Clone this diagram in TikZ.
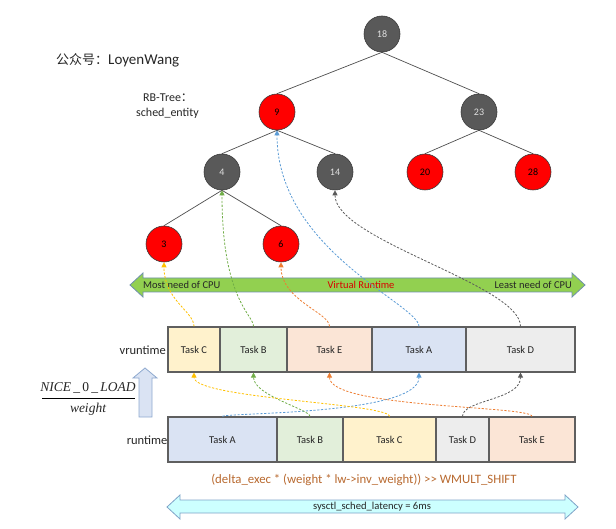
\documentclass[tikz,border=0pt]{standalone}
\usepackage{fontspec}
\setmainfont{Carlito}
\newfontfamily\cjkf{Noto Sans CJK SC}
\newfontfamily\timesf{Liberation Serif}
\usetikzlibrary{arrows.meta}
\definecolor{cYel}{HTML}{FFC000}
\definecolor{cGrn}{HTML}{70AD47}
\definecolor{cOrg}{HTML}{ED7D31}
\definecolor{cBlu}{HTML}{5B9BD5}
\definecolor{cGry}{HTML}{5A5A5A}
\definecolor{fC}{HTML}{FFF2CC}
\definecolor{fB}{HTML}{E2EFDA}
\definecolor{fE}{HTML}{FBE5D6}
\definecolor{fA}{HTML}{DAE3F3}
\definecolor{fD}{HTML}{EDEDED}
\definecolor{darkN}{HTML}{595959}
\definecolor{edgeN}{HTML}{3A3A3A}
\definecolor{boxLine}{HTML}{5F5F5F}
\definecolor{arrGreen}{HTML}{92D050}
\definecolor{arrGreenLine}{HTML}{6F8FAF}
\definecolor{arrCyan}{HTML}{CCFFFF}
\definecolor{arrCyanLine}{HTML}{7FA3C8}
\definecolor{arrBlue}{HTML}{DAE3F3}
\definecolor{arrBlueLine}{HTML}{8EA9CF}
\definecolor{formulaC}{HTML}{B8692F}
\definecolor{txt}{HTML}{262626}
\begin{document}
\begin{tikzpicture}[x=1pt,y=-1pt,
  rbnode/.style={circle,minimum size=36pt,inner sep=0pt,draw=edgeN,line width=0.6pt,font=\fontsize{10}{12}\selectfont},
  blk/.style={rbnode,fill=darkN,text=white!88!black},
  red/.style={rbnode,fill=red,text=black},
  tedge/.style={draw=edgeN!90,line width=0.7pt},
  taskbox/.style={rectangle,draw=boxLine,line width=1.1pt,minimum height=45pt,inner sep=0pt,text=txt,font=\fontsize{10.5}{12}\selectfont},
  conn/.style={line width=0.8pt,dash pattern=on 2.2pt off 1.6pt,-{Triangle[length=5pt,width=5pt]}},
  lbl/.style={inner sep=0pt,text=txt}
]
\useasboundingbox (0,0) rectangle (616,529);

% header texts
\node[lbl,anchor=west] (title) at (56,60) {{\cjkf\fontsize{13}{15}\selectfont 公众号：}{\fontsize{15}{17}\selectfont LoyenWang}};
\node[lbl,anchor=west] (rbt) at (143,98) {\fontsize{12}{14}\selectfont RB-Tree{\cjkf ：}};
\node[lbl,anchor=west] (sent) at (136,113) {\fontsize{12}{14}\selectfont sched\_entity};

% tree
\node[blk] (n18) at (382,34) {18};
\node[red] (n9) at (277,112) {9};
\node[blk] (n23) at (479,112) {23};
\node[blk] (n4) at (222,172) {4};
\node[blk] (n14) at (335,172) {14};
\node[red] (n20) at (425,172) {20};
\node[red] (n28) at (533,172) {28};
\node[red] (n3) at (164,244) {3};
\node[red] (n6) at (281,244) {6};
\path[tedge] (n18.south) -- (n9.north);
\path[tedge] (n18.south) -- (n23.north);
\path[tedge] (n9.south) -- (n4.north);
\path[tedge] (n9.south) -- (n14.north);
\path[tedge] (n23.south) -- (n20.north);
\path[tedge] (n23.south) -- (n28.north);
\path[tedge] (n4.south) -- (n3.north);
\path[tedge] (n4.south) -- (n6.north);

% green virtual runtime arrow
\draw[fill=arrGreen,draw=arrGreenLine,line width=0.8pt]
  (130,285) -- (143,273) -- (143,278) -- (572,278) -- (572,273) -- (585,285)
  -- (572,297) -- (572,292) -- (143,292) -- (143,297) -- cycle;
\node[lbl,anchor=west,font=\fontsize{10.5}{12}\selectfont] (most) at (143,285) {Most need of CPU};
\node[lbl,text=red!85!black,font=\fontsize{10.5}{12}\selectfont] (vrt) at (361,285) {Virtual Runtime};
\node[lbl,anchor=east,font=\fontsize{10.5}{12}\selectfont] (least) at (572,285) {Least need of CPU};

% vruntime row
\node[taskbox,fill=fC,minimum width=52pt] (vC) at (194,349.5) {Task C};
\node[taskbox,fill=fB,minimum width=67pt] (vB) at (253.5,349.5) {Task B};
\node[taskbox,fill=fE,minimum width=85pt] (vE) at (329.5,349.5) {Task E};
\node[taskbox,fill=fA,minimum width=94pt] (vA) at (419,349.5) {Task A};
\node[taskbox,fill=fD,minimum width=109pt] (vD) at (520.5,349.5) {Task D};
\node[lbl,anchor=east,font=\fontsize{12.5}{14}\selectfont] (vlab) at (166,350) {vruntime};

% runtime row
\node[taskbox,fill=fA,minimum width=109pt] (rA) at (222.5,439.5) {Task A};
\node[taskbox,fill=fB,minimum width=66pt] (rB) at (310,439.5) {Task B};
\node[taskbox,fill=fC,minimum width=93pt] (rC) at (389.5,439.5) {Task C};
\node[taskbox,fill=fD,minimum width=53pt] (rD) at (462.5,439.5) {Task D};
\node[taskbox,fill=fE,minimum width=86pt] (rE) at (532,439.5) {Task E};
\node[lbl,anchor=east,font=\fontsize{12.5}{14}\selectfont] (rlab) at (167.5,440) {runtime};

% up arrow and fraction
\draw[fill=arrBlue,draw=arrBlueLine,line width=0.8pt]
  (145,368) -- (157,378) -- (152,378) -- (152,417) -- (139,417) -- (139,378) -- (133,378) -- cycle;
\node[lbl,font=\timesf\fontsize{13.5}{15}\selectfont] (num) at (88,388) {\itshape NICE\,\_\,\upshape 0\itshape\,\_\,LOAD};
\node[lbl,font=\timesf\fontsize{13.5}{15}\selectfont] (den) at (88,409) {\itshape weight};
\draw[line width=0.8pt,black] (42,398) -- (135,398);

% formula
\node[lbl,text=formulaC,font=\fontsize{12.8}{14}\selectfont] (formula) at (364,480) {(delta\_exec * (weight * lw->inv\_weight)) >{}> WMULT\_SHIFT};

% cyan latency arrow
\draw[fill=arrCyan,draw=arrCyanLine,line width=0.8pt]
  (167,507) -- (180,495) -- (180,500) -- (565,500) -- (565,495) -- (578,507)
  -- (565,519) -- (565,513) -- (180,513) -- (180,519) -- cycle;
\node[lbl,font=\fontsize{10.6}{12}\selectfont] (lat) at (372,507) {sysctl\_sched\_latency = 6ms};

% connectors runtime -> vruntime
\draw[conn,draw=cBlu] (rA.north) .. controls +(0,-4) and +(0,43) .. (vA.south);
\draw[conn,draw=cGrn] (rB.north) .. controls +(0,-7) and +(0,23) .. (vB.south);
\draw[conn,draw=cYel] (rC.north) .. controls +(0,-13) and +(0,26) .. (vC.south);
\draw[conn,draw=cGry] (rD.north) .. controls +(0,-17) and +(0,28) .. (vD.south);
\draw[conn,draw=cOrg] (rE.north) .. controls +(0,-11) and +(0,36) .. (vE.south);

% connectors vruntime -> tree
\draw[conn,draw=cYel] (vC.north) .. controls +(0,-15) and +(0,38) .. (n3.south);
\draw[conn,draw=cGrn] (vB.north) .. controls +(0,-12) and +(0,110) .. (n4.south);
\draw[conn,draw=cOrg] (vE.north) .. controls +(0,-14) and +(0,38) .. (n6.south);
\draw[conn,draw=cBlu] (vA.north) .. controls +(0,-22) and +(0,120) .. (n9.south);
\draw[conn,draw=cGry] (vD.north) .. controls +(0,-42) and +(0,50) .. (n14.south);
\end{tikzpicture}
\end{document}
